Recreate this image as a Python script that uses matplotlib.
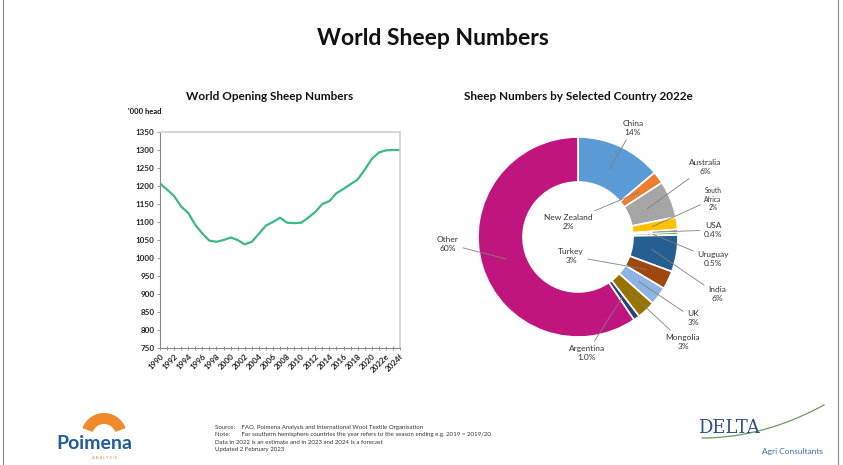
import numpy as np
import matplotlib.pyplot as plt
from matplotlib.patches import Wedge
from matplotlib.lines import Line2D
from matplotlib.transforms import IdentityTransform

plt.rcParams['font.family'] = ['Lato', 'DejaVu Sans']

# World opening sheep numbers ('000 head)
years = [str(y) for y in range(1990, 2022)] + ['2022e', '2023f', '2024f']
sheep = [1207, 1190, 1172, 1143, 1125, 1092, 1068, 1048, 1045, 1050,
         1057, 1050, 1038, 1045, 1067, 1090, 1100, 1112, 1098, 1097,
         1098, 1112, 1128, 1150, 1158, 1180, 1192, 1205, 1218, 1245,
         1275, 1293, 1299, 1300, 1300]

# share by country 2022e (%)
countries = ['China', 'New Zealand', 'Australia', 'South\nAfrica', 'USA', 'Uruguay',
             'India', 'Turkey', 'UK', 'Mongolia', 'Argentina', 'Other']
shares = [14, 2, 6, 2, 0.4, 0.5, 6, 3, 3, 3, 1.0, 60]
share_labels = ['14%', '2%', '6%', '2%', '0.4%', '0.5%', '6%', '3%', '3%', '3%', '1.0%', '60%']
colors = ['#5b9bd5', '#ed7d31', '#a5a5a5', '#ffc000', '#4472c4', '#70ad47',
          '#255e91', '#9e480e', '#8db4e2', '#997300', '#264478', '#c0157e']
# label positions around the donut (axes data units, radius 1)
label_pos = [(0.55, 1.09), (-0.10, 0.15), (1.27, 0.70), (1.35, 0.38), (1.35, 0.07),
             (1.35, -0.22), (1.39, -0.57), (-0.07, -0.19), (1.15, -0.81),
             (1.05, -1.05), (0.09, -1.16), (-1.30, -0.07)]

W, H = 843, 465
fig = plt.figure(figsize=(W / 100, H / 100), dpi=100)


def px(x, y):
    return x / W, 1 - y / H


fig.text(*px(433, 38), 'World Sheep Numbers', ha='center', va='center',
         fontsize=16.5, fontweight='bold', color='#111111')

# line chart
ax = fig.add_axes([160 / W, 1 - 348 / H, 240 / W, 216 / H])
x = np.arange(len(years))
ax.plot(x, sheep, color='#3bb982', lw=1.6)
ax.set_xlim(0, len(years) - 1)
ax.set_ylim(750, 1350)
ax.set_yticks(range(750, 1351, 50))
ax.set_xticks(x[::2])
ax.set_xticklabels(years[::2], rotation=45, ha='right', rotation_mode='anchor')
ax.set_xticks(x, minor=True)
ax.tick_params(axis='both', labelsize=5.8, colors='#222222', length=2, width=0.6)
ax.tick_params(axis='x', which='both', direction='inout', length=3, color='#888888', pad=2)
ax.tick_params(axis='y', color='#888888', pad=2)
for lab in ax.get_xticklabels() + ax.get_yticklabels():
    lab.set_fontweight('bold')
for side in ['left', 'bottom']:
    ax.spines[side].set_color('#888888')
    ax.spines[side].set_linewidth(0.8)
for side in ['top', 'right']:
    ax.spines[side].set_color('#d0d0d0')
    ax.spines[side].set_linewidth(1.2)
fig.text(*px(270, 97), 'World Opening Sheep Numbers', ha='center', va='center',
         fontsize=8.5, fontweight='bold', color='#111111')
fig.text(*px(128, 112), "'000 head", ha='left', va='center',
         fontsize=5.5, fontweight='bold', color='#111111')

# donut chart
ax2 = fig.add_axes([418 / W, 1 - 397 / H, 320 / W, 320 / H])
wedges, _ = ax2.pie(shares, colors=colors, startangle=90, counterclock=False,
                    radius=1, wedgeprops=dict(width=0.45, edgecolor='white', linewidth=1.2))
ax2.set_xlim(-1.6, 1.6)
ax2.set_ylim(-1.6, 1.6)
ax2.set_aspect('equal')
ax2.axis('off')
for w, name, pct, pos in zip(wedges, countries, share_labels, label_pos):
    mid = np.deg2rad((w.theta1 + w.theta2) / 2)
    pt = (0.75 * np.cos(mid), 0.75 * np.sin(mid))
    small = name == 'South\nAfrica'
    ax2.annotate(name + '\n' + pct, xy=pt, xytext=pos, ha='center', va='center',
                 fontsize=4.8 if small else 6, color='#333333', linespacing=1.3,
                 arrowprops=dict(arrowstyle='-', color='#7f7f7f', lw=0.6,
                                 shrinkA=1, shrinkB=0))
fig.text(*px(578, 97), 'Sheep Numbers by Selected Country 2022e', ha='center', va='center',
         fontsize=8.5, fontweight='bold', color='#111111')

# footer notes
notes = ['Source:    FAO, Poimena Analysis and International Wool Textile Organisation',
         'Note:       For southern hemisphere countries the year refers to the season ending e.g. 2019 = 2019/20',
         'Data in 2022 is an estimate and in 2023 and 2024 is a forecast',
         'Updated 2 February 2023']
for i, line in enumerate(notes):
    fig.text(*px(215, 427 + i * 7.5), line, ha='left', va='center', fontsize=4.4, color='#333333')

# Poimena logo (pixel coordinates, origin bottom-left)
fig.patches.append(Wedge((104, H - 436), 23, 20, 160, width=11,
                         transform=IdentityTransform(), facecolor='#f0892a', edgecolor='none'))
fig.text(*px(94, 443), 'Poimena', ha='center', va='center', fontsize=14,
         fontweight='bold', color='#1f5c99')
fig.text(*px(104, 458), 'A N A L Y S I S', ha='center', va='center', fontsize=2.8, color='#e08a40')

# Delta logo
fig.text(*px(729, 428), 'DELTA', ha='center', va='center', fontsize=13,
         family='DejaVu Serif', color='#2b4f8a')
t = np.linspace(0, 1, 50)
sx = 702 + 122 * t
sy = 438 - 33 * t ** 2
fig.lines.append(Line2D(sx / W, 1 - sy / H, transform=fig.transFigure, color='#6a9a5a', lw=0.9))
fig.text(*px(792, 451), 'Agri Consultants', ha='center', va='center', fontsize=6, color='#3a6ea5')

# slide border
fig.lines.append(Line2D([3 / W, 3 / W], [0, 1], transform=fig.transFigure, color='#888888', lw=0.8))
fig.lines.append(Line2D([838 / W, 838 / W], [0, 1], transform=fig.transFigure, color='#888888', lw=0.8))

fig.savefig('out.png', dpi=100)
